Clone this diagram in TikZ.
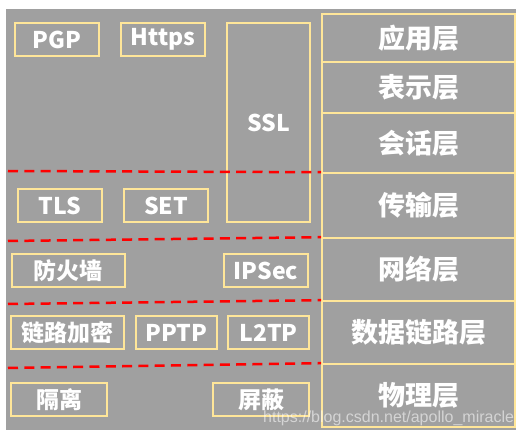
\documentclass[tikz,border=0pt]{standalone}
\usepackage{fontspec}
\setmainfont{Noto Sans CJK SC}
\newfontfamily\wmfont{Liberation Sans}
\usepackage{tikz}

\definecolor{bggray}{HTML}{A0A0A0}
\definecolor{boxline}{HTML}{FFE699}

\begin{document}
\begin{tikzpicture}[x=1pt, y=-1pt,
        box/.style={draw=boxline, line width=1.6pt, minimum height=33pt, inner sep=0pt, text=white, font=\fontsize{23}{27}\selectfont\bfseries},
        layer/.style={draw=boxline, line width=1.6pt, minimum width=193pt, inner sep=0pt, text=white, font=\fontsize{27}{32}\selectfont\bfseries},
        sep/.style={red, line width=2.5pt, dash pattern=on 10pt off 6.3pt}
      ]
        \useasboundingbox (0,0) rectangle (523,436);
        \fill[bggray] (6,9) rectangle (516,430);
        \node[layer, minimum height=48pt] (app) at (418.5,38) {应用层};
        \node[layer, minimum height=51pt] (pres) at (418.5,87.5) {表示层};
        \node[layer, minimum height=60pt] (sess) at (418.5,143) {会话层};
        \node[layer, minimum height=65pt] (trans) at (418.5,205.5) {传输层};
        \node[layer, minimum height=63pt] (net) at (418.5,269.5) {网络层};
        \node[layer, minimum height=63pt] (link) at (418.5,332.5) {数据链路层};
        \node[layer, minimum height=63pt] (phys) at (418.5,395.5) {物理层};
        \node[box, minimum width=84pt] (pgp) at (57,39.5) {PGP};
        \node[box, minimum width=84pt] (https) at (163,39.5) {Https};
        \node[box, minimum width=83pt, minimum height=199pt] (ssl) at (268.5,122.5) {SSL};
        \node[box, minimum width=84pt] (tls) at (60,205.5) {TLS};
        \node[box, minimum width=84pt] (set) at (166,205.5) {SET};
        \node[box, minimum width=113pt] (fw) at (68.5,270.5) {防火墙};
        \node[box, minimum width=84pt] (ipsec) at (266,270.5) {IPSec};
        \node[box, minimum width=113pt] (linkenc) at (67.5,332.5) {链路加密};
        \node[box, minimum width=81pt] (pptp) at (176.5,332.5) {PPTP};
        \node[box, minimum width=81pt] (ltp) at (268.5,332.5) {L2TP};
        \node[box, minimum width=96pt] (iso) at (59,399.5) {隔离};
        \node[box, minimum width=96pt] (shield) at (261,399.5) {屏蔽};
        \draw[sep] (8,171) -- (trans.north west);
        \draw[sep] (8,241) -- (net.north west);
        \draw[sep] (8,304) -- (link.north west);
        \draw[sep] (8,368) -- (phys.north west);
        \node[anchor=base west, inner sep=0pt, text=white, text opacity=0.55, font=\wmfont\fontsize{16}{18}\selectfont] (wm) at (263,422) {https://blog.csdn.net/apollo\_miracle};
      \end{tikzpicture}
\end{document}
